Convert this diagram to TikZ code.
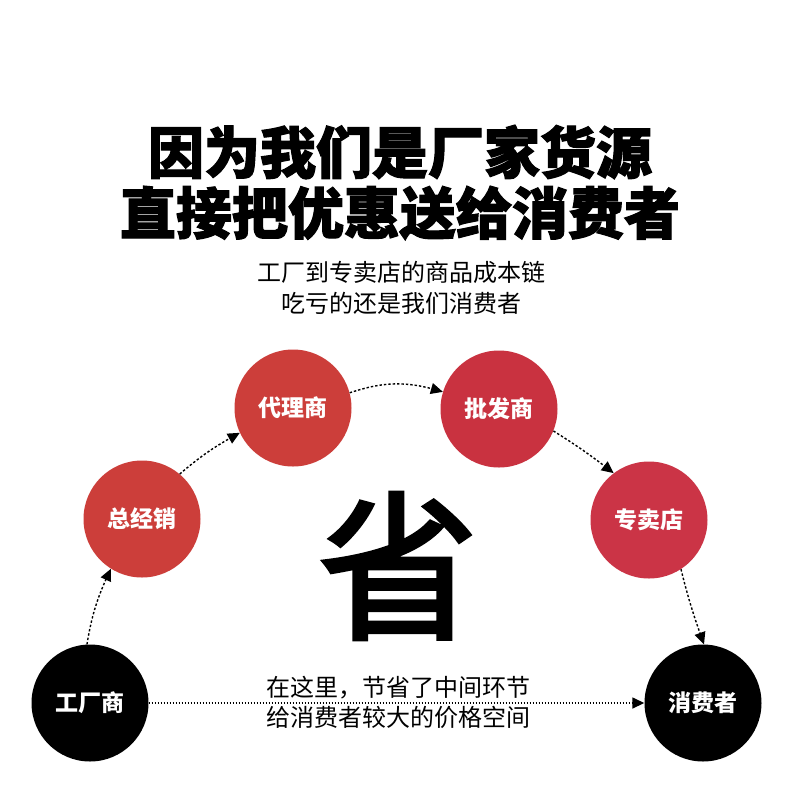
\documentclass[tikz,border=0pt]{standalone}
\usepackage{fontspec}
\newfontfamily\cjk{Noto Sans CJK SC}
\newfontfamily\cjkh[BoldFeatures={FakeBold=2}]{Noto Sans CJK SC}
\newfontfamily\cjkm[FakeBold=2.5]{Noto Sans CJK SC}
\usetikzlibrary{arrows.meta,bending}
\definecolor{redA}{RGB}{204,62,58}
\definecolor{redB}{RGB}{201,50,64}
\definecolor{redC}{RGB}{203,52,70}
\begin{document}
\begin{tikzpicture}[x=1pt,y=-1pt,
  circ/.style={circle, minimum size=117pt, inner sep=0pt, text=white,
    font=\cjk\bfseries\fontsize{23}{23}\selectfont},
  flow/.style={-{Triangle[length=12pt,width=11pt]}, line width=1.4pt,
    dash pattern=on 2.4pt off 2pt},
  flat/.style={-{Triangle[length=12pt,width=11pt]}, line width=1.5pt,
    dash pattern=on 1.5pt off 1.5pt},
  title/.style={font=\cjkh\bfseries\fontsize{56}{56}\selectfont, inner sep=0pt},
  sub/.style={font=\cjk\fontsize{24}{24}\selectfont, inner sep=0pt}
]
\useasboundingbox (0,0) rectangle (790,812);
\fill[white] (0,0) rectangle (790,812);

\node[title] (t1) at (400,152) {因为我们是厂家货源};
\node[title] (t2) at (400,213) {直接把优惠送给消费者};
\node[sub] (s1) at (401,272) {工厂到专卖店的商品成本链};
\node[sub] (s2) at (401,303) {吃亏的还是我们消费者};

\node[font=\cjkm\fontsize{160}{160}\selectfont, inner sep=0pt] (big) at (398,566) {省};

\node[circ,fill=black] (fac) at (90,703) {工厂商};
\node[circ,fill=redA] (zjx) at (142,519) {总经销};
\node[circ,fill=redA] (dls) at (293,408) {代理商};
\node[circ,fill=redB] (pfs) at (499,409) {批发商};
\node[circ,fill=redC] (zmd) at (649,520) {专卖店};
\node[circ,fill=black] (xfz) at (703,703) {消费者};

\draw[flow] (fac.93) to[bend left=8] (zjx.238);
\draw[flow] (zjx.50) to[bend left=6] (dls.205);
\draw[flow] (dls.15) to[bend left=18] (pfs.163);
\draw[flow] (pfs.-22) to[bend left=3] (zmd.127);
\draw[flow] (zmd.-57) to[bend right=3] (xfz.89);
\draw[flat] (fac) -- (xfz);

\node[sub] (m1) at (398,688) {在这里，节省了中间环节};
\node[sub] (m2) at (398,717) {给消费者较大的价格空间};
\end{tikzpicture}
\end{document}
